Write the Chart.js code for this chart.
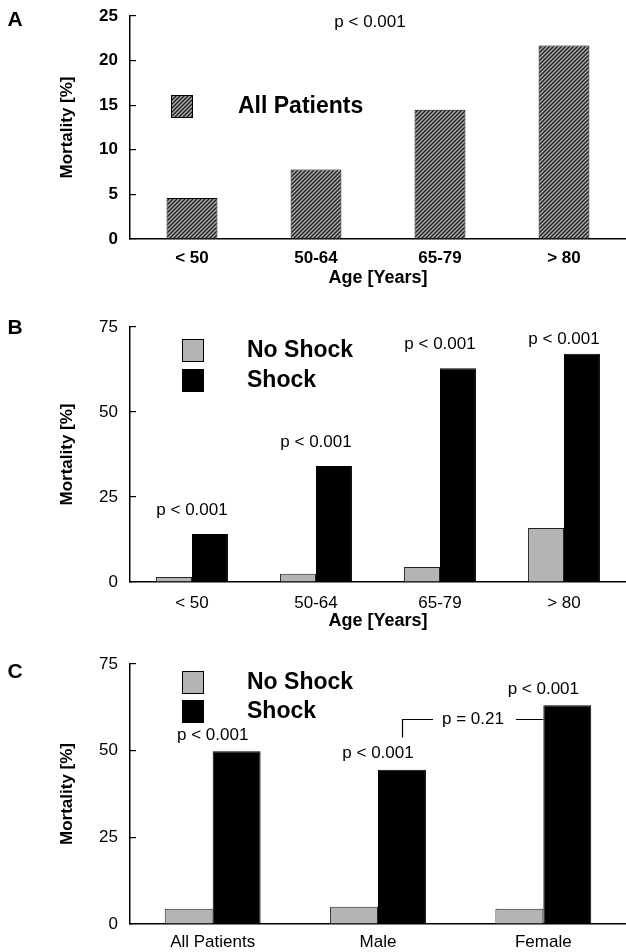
<!DOCTYPE html>
<html>
<head>
<meta charset="utf-8">
<script src="https://cdn.jsdelivr.net/npm/chart.js@4.4.1/dist/chart.umd.min.js"></script>
<style>
  body { margin: 0; background: #fff; }
  #wrap { position: relative; width: 626px; height: 952px; }
  canvas { position: absolute; left: 0; }
</style>
</head>
<body>
<div id="wrap">
  <canvas id="chartA" width="626" height="300" style="top:0px"></canvas>
  <canvas id="chartB" width="626" height="332" style="top:300px"></canvas>
  <canvas id="chartC" width="626" height="320" style="top:632px"></canvas>
</div>
<script>
// data (mortality in %)
const ageGroups = ['< 50', '50-64', '65-79', '> 80'];
const allPatients = [4.6, 7.8, 14.5, 21.7];
const noShockByAge = [1.5, 2.4, 4.4, 15.9];
const shockByAge = [14.1, 34.1, 62.9, 67.1];

const sexGroups = ['All Patients', 'Male', 'Female'];
const noShockBySex = [4.4, 5.0, 4.4];
const shockBySex = [49.8, 44.5, 63.1];

const pOverall = 'p < 0.001';
const pAge = ['p < 0.001', 'p < 0.001', 'p < 0.001', 'p < 0.001'];
const pSex = ['p < 0.001', 'p < 0.001', 'p < 0.001'];
const pMaleVsFemale = 'p = 0.21';

const FONT = "'Liberation Sans', Arial, Helvetica, sans-serif";
Chart.defaults.font.family = FONT;
Chart.defaults.color = '#000';
Chart.defaults.animation = false;
Chart.defaults.plugins.legend.display = false;
Chart.defaults.plugins.tooltip.enabled = false;

const GRAY = '#b4b4b4';

// diagonal hatch fill for panel A
function hatch() {
  const c = document.createElement('canvas');
  c.width = c.height = 4;
  const g = c.getContext('2d');
  g.fillStyle = '#ababab';
  g.fillRect(0, 0, 4, 4);
  g.strokeStyle = '#1c1c1c';
  g.lineWidth = 1.3;
  g.beginPath();
  g.moveTo(-1, 5); g.lineTo(5, -1);
  g.moveTo(-1, 1); g.lineTo(1, -1);
  g.moveTo(3, 5); g.lineTo(5, 3);
  g.stroke();
  return g.createPattern(c, 'repeat');
}

function makeScales(max, step, bold, xTitle, xPad, xHeight) {
  return {
    x: {
      grid: { display: false, drawTicks: false },
      border: { color: '#000', width: 1.5 },
      ticks: { padding: xPad, font: { size: 17, weight: bold ? 'bold' : 'normal' } },
      title: { display: !!xTitle, text: xTitle || '', padding: 0, font: { size: 18, weight: 'bold' } },
      afterFit: s => { s.height = xHeight; }
    },
    y: {
      min: 0, max: max,
      ticks: { stepSize: step, padding: 18, font: { size: 17, weight: bold ? 'bold' : 'normal' } },
      grid: { drawOnChartArea: false, tickLength: -6, color: '#000', lineWidth: 1.2 },
      border: { color: '#000', width: 1.5 },
      title: { display: true, text: 'Mortality [%]', padding: { top: 57, bottom: 0 }, font: { size: 17, weight: 'bold' } },
      afterFit: s => { s.width = 130; s.paddingTop = 0; s.paddingBottom = 0; }
    }
  };
}

// panel letter, legend, p-values
const panelNotes = {
  id: 'panelNotes',
  afterDraw(chart, args, o) {
    const { ctx, chartArea: ca, scales: { x, y } } = chart;
    ctx.save();
    ctx.fillStyle = '#000';
    ctx.strokeStyle = '#000';
    ctx.textBaseline = 'middle';

    ctx.font = 'bold 21px ' + FONT;
    ctx.textAlign = 'center';
    ctx.fillText(o.letter, 15, o.letterY);

    // legend
    ctx.font = 'bold 23px ' + FONT;
    ctx.textAlign = 'left';
    chart.data.datasets.forEach((ds, i) => {
      const bx = ca.left + o.legX, by = ca.top + o.legY + i * o.legRow;
      ctx.fillStyle = ds.backgroundColor;
      ctx.fillRect(bx, by, 22, 23);
      ctx.lineWidth = 1;
      ctx.strokeStyle = '#000';
      ctx.strokeRect(bx + 0.5, by + 0.5, 21, 22);
      ctx.fillStyle = '#000';
      ctx.fillText(ds.label, ca.left + o.legText, by + 12);
    });

    ctx.font = '17px ' + FONT;
    ctx.textAlign = 'center';
    if (o.topNote) {
      const tx = (x.getPixelForValue(1) + x.getPixelForValue(2)) / 2 - 8;
      ctx.fillText(o.topNote, tx, y.getPixelForValue(24.3));
    }
    if (o.barNotes) {
      const meta = chart.getDatasetMeta(o.noteSet);
      o.barNotes.forEach((t, i) => {
        const ty = Math.max(meta.data[i].y - o.noteGap, ca.top + 12);
        ctx.fillText(t, x.getPixelForValue(i), ty);
      });
    }
    if (o.bracket) {
      const meta = chart.getDatasetMeta(1);
      const a = meta.data[1], b = meta.data[2];
      const x1 = Math.round(a.x) + 0.5, x2 = b.x - b.width / 2;
      const by = Math.round(y.getPixelForValue(59)) + 0.5;
      const w = ctx.measureText(o.bracket).width;
      const mid = (x1 + x2) / 2;
      ctx.lineWidth = 1.2;
      ctx.beginPath();
      ctx.moveTo(x1, by + 18); ctx.lineTo(x1, by); ctx.lineTo(mid - w / 2 - 9, by);
      ctx.moveTo(mid + w / 2 + 12, by); ctx.lineTo(x2, by);
      ctx.stroke();
      ctx.fillText(o.bracket, mid, by);
    }
    ctx.restore();
  }
};

new Chart(document.getElementById('chartA'), {
  type: 'bar',
  data: {
    labels: ageGroups,
    datasets: [{
      label: 'All Patients',
      data: allPatients,
      backgroundColor: hatch(),
      borderColor: '#000',
      borderWidth: 1,
      categoryPercentage: 0.41,
      barPercentage: 1
    }]
  },
  options: {
    responsive: false,
    layout: { padding: { top: 16, bottom: 11, left: 0, right: 0 } },
    scales: makeScales(25, 5, true, 'Age [Years]', 9, 50),
    plugins: {
      panelNotes: { letter: 'A', letterY: 20, legX: 41, legY: 79, legRow: 30, legText: 108, topNote: pOverall }
    }
  },
  plugins: [panelNotes]
});

new Chart(document.getElementById('chartB'), {
  type: 'bar',
  data: {
    labels: ageGroups,
    datasets: [
      { label: 'No Shock', data: noShockByAge, backgroundColor: GRAY, borderColor: '#222', borderWidth: 1, categoryPercentage: 0.58, barPercentage: 1 },
      { label: 'Shock', data: shockByAge, backgroundColor: '#000', borderColor: '#000', borderWidth: 1, categoryPercentage: 0.58, barPercentage: 1 }
    ]
  },
  options: {
    responsive: false,
    layout: { padding: { top: 27, bottom: 0, left: 0, right: 0 } },
    scales: makeScales(75, 25, false, 'Age [Years]', 11, 50),
    plugins: {
      panelNotes: { letter: 'B', letterY: 28, legX: 52, legY: 12, legRow: 30, legText: 117, barNotes: pAge, noteSet: 1, noteGap: 24 }
    }
  },
  plugins: [panelNotes]
});

new Chart(document.getElementById('chartC'), {
  type: 'bar',
  data: {
    labels: sexGroups,
    datasets: [
      { label: 'No Shock', data: noShockBySex, backgroundColor: GRAY, borderColor: '#222', borderWidth: 1, categoryPercentage: 0.58, barPercentage: 1 },
      { label: 'Shock', data: shockBySex, backgroundColor: '#000', borderColor: '#000', borderWidth: 1, categoryPercentage: 0.58, barPercentage: 1 }
    ]
  },
  options: {
    responsive: false,
    layout: { padding: { top: 32, bottom: 0, left: 0, right: 0 } },
    scales: makeScales(75, 25, false, null, 8, 28),
    plugins: {
      panelNotes: { letter: 'C', letterY: 40, legX: 52, legY: 7, legRow: 29, legText: 117, barNotes: pSex, noteSet: 1, noteGap: 16, bracket: pMaleVsFemale }
    }
  },
  plugins: [panelNotes]
});
</script>
</body>
</html>
